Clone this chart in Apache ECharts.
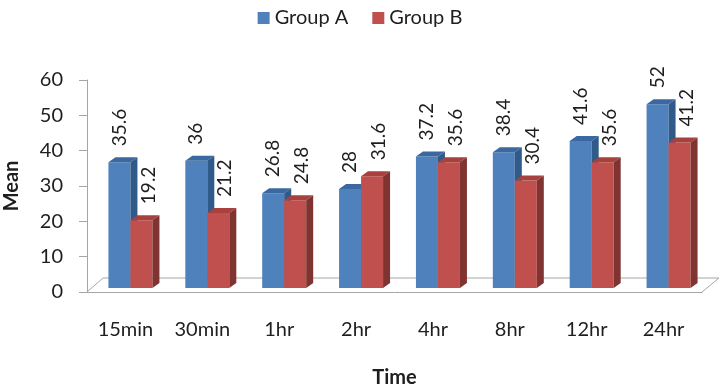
<!DOCTYPE html>
<html>
<head>
<meta charset="utf-8">
<script src="https://cdn.jsdelivr.net/npm/echarts@6/dist/echarts.min.js"></script>
<style>
  html, body { margin: 0; background: #fff; }
  #chart { width: 720px; height: 388px; }
</style>
</head>
<body>
<div id="chart"></div>
<script>
const categories = ['15min', '30min', '1hr', '2hr', '4hr', '8hr', '12hr', '24hr'];
const groupA = [35.6, 36, 26.8, 28, 37.2, 38.4, 41.6, 52];
const groupB = [19.2, 21.2, 24.8, 31.6, 35.6, 30.4, 35.6, 41.2];
const yMin = 0, yMax = 60, yStep = 10;

const chart = echarts.init(document.getElementById('chart'));

// fake excel 3d column: front face, top and side, value written upwards above it
function bar3d(shift, front, top, side, labelShift) {
  return function (params, api) {
    const i = api.value(0), v = api.value(1);
    const p0 = api.coord([i, 0]);
    const p1 = api.coord([i, v]);
    const w = 22, dx = 7, dy = -5;
    const x = p0[0] + shift, yb = p0[1] - 4, yt = p1[1] - 4;
    return {
      type: 'group',
      children: [
        { type: 'rect', shape: { x: x, y: yt, width: w, height: yb - yt }, style: { fill: front } },
        { type: 'polygon', shape: { points: [[x, yt], [x + dx, yt + dy], [x + w + dx, yt + dy], [x + w, yt]] }, style: { fill: top } },
        { type: 'polygon', shape: { points: [[x + w, yt], [x + w + dx, yt + dy], [x + w + dx, yb + dy], [x + w, yb]] }, style: { fill: side } },
        {
          type: 'text', x: x + w / 2 + labelShift, y: yt - 16, rotation: Math.PI / 2,
          style: { text: String(v), font: '19px Lato', fill: '#1e1e1e', align: 'left', verticalAlign: 'middle' }
        }
      ]
    };
  };
}

// floor of the 3d box
function floor(params, api) {
  const cs = params.coordSys;
  const b = cs.y + cs.height, l = cs.x, r = cs.x + cs.width;
  return {
    type: 'polyline',
    shape: { points: [[l, b], [l + 16, b - 14], [r + 17, b - 14], [r, b]] },
    style: { stroke: '#a6a6a6', fill: null, lineWidth: 1 }
  };
}

const option = {
  animation: false,
  textStyle: { fontFamily: 'Lato' },
  legend: {
    data: ['Group A', 'Group B'],
    top: 3,
    left: 'center',
    icon: 'rect',
    itemWidth: 12,
    itemHeight: 12,
    itemGap: 24,
    textStyle: { fontSize: 20, color: '#1e1e1e', fontFamily: 'Lato' }
  },
  grid: { left: 87, right: 18, top: 80, bottom: 96, outerBoundsMode: 'none', containLabel: false },
  xAxis: {
    type: 'category',
    data: categories,
    name: 'Time',
    nameLocation: 'middle',
    nameGap: 76,
    nameTextStyle: { fontSize: 20, fontWeight: 'bold', color: '#1e1e1e' },
    axisLine: { lineStyle: { color: '#a6a6a6' } },
    axisTick: { length: 8, lineStyle: { color: '#a6a6a6' } },
    axisLabel: { fontSize: 20, color: '#1e1e1e', margin: 28 }
  },
  yAxis: {
    type: 'value',
    min: yMin,
    max: yMax,
    interval: yStep,
    name: 'Mean',
    nameLocation: 'middle',
    nameGap: 65,
    nameTextStyle: { fontSize: 20, fontWeight: 'bold', color: '#1e1e1e' },
    axisLine: { show: true, lineStyle: { color: '#a6a6a6' } },
    axisTick: { show: true, length: 8, lineStyle: { color: '#a6a6a6' } },
    axisLabel: { fontSize: 20, color: '#1e1e1e', margin: 24 },
    splitLine: { show: false }
  },
  series: [
    {
      type: 'custom',
      name: 'floor',
      silent: true,
      z: 1,
      renderItem: floor,
      data: [[0, 0]]
    },
    {
      type: 'custom',
      name: 'Group A',
      z: 2,
      itemStyle: { color: '#4f81bd' },
      encode: { x: 0, y: 1 },
      renderItem: bar3d(-17, '#4f81bd', '#3b68a0', '#2f5a8a', 0),
      data: groupA.map((v, i) => [i, v])
    },
    {
      type: 'custom',
      name: 'Group B',
      z: 3,
      itemStyle: { color: '#c0504d' },
      encode: { x: 0, y: 1 },
      renderItem: bar3d(5, '#c0504d', '#a8403d', '#7f3432', 7),
      data: groupB.map((v, i) => [i, v])
    }
  ]
};

chart.setOption(option);
</script>
</body>
</html>
